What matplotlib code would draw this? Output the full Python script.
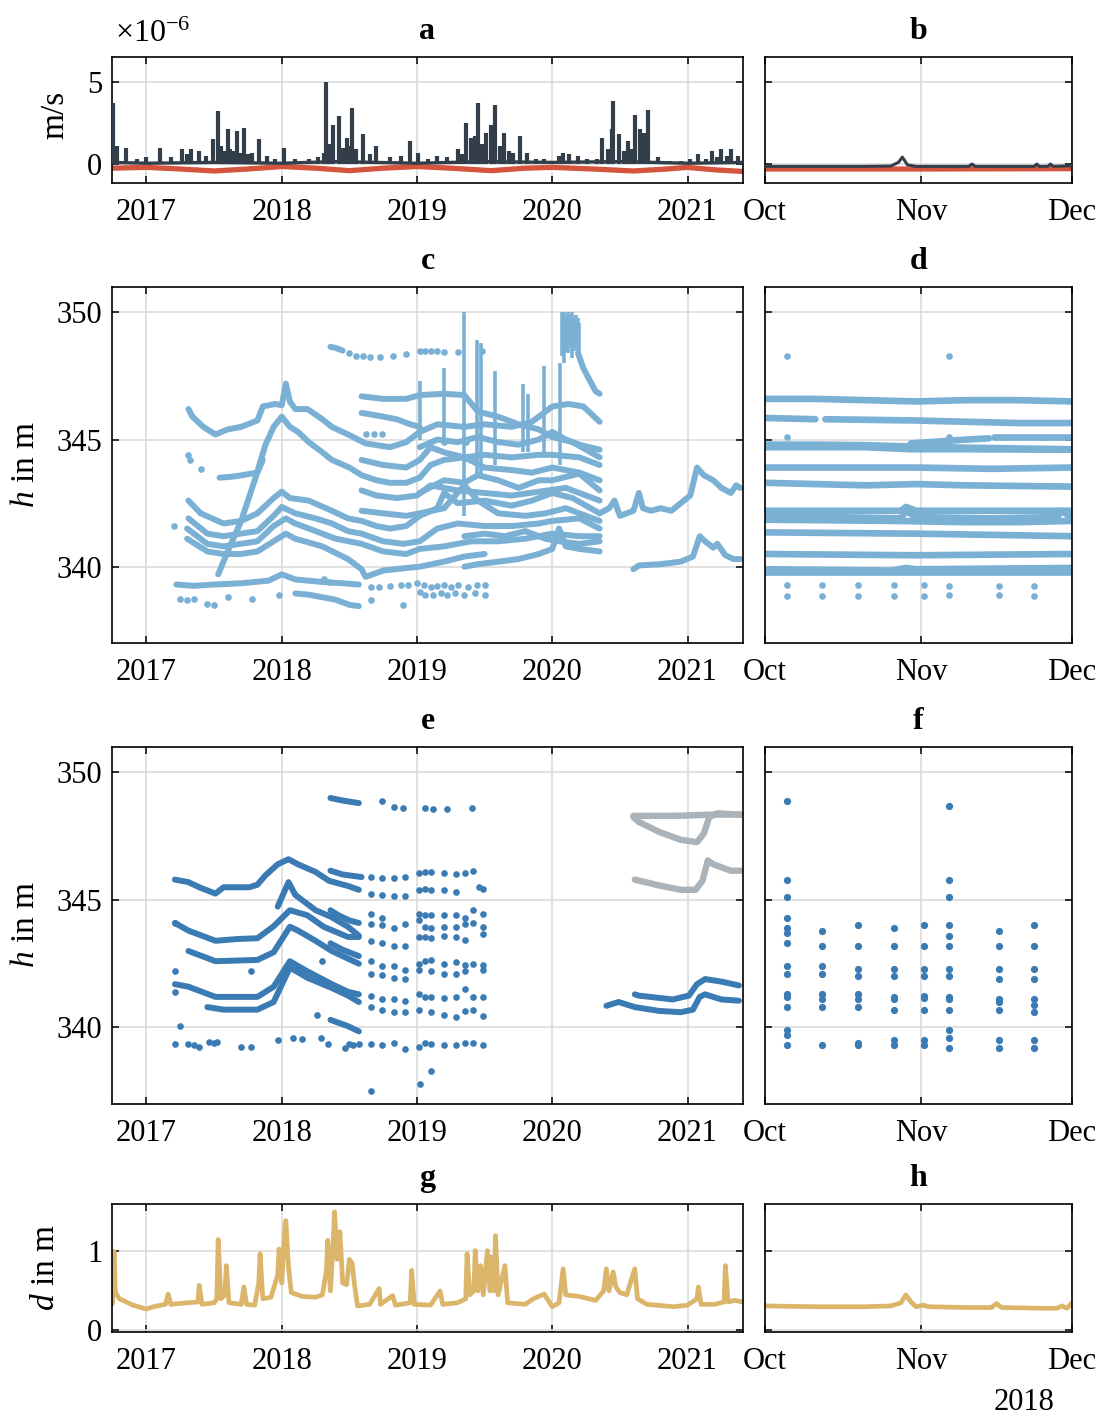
import matplotlib
matplotlib.use('Agg')
import matplotlib.pyplot as plt

plt.rcParams['font.family'] = ['Liberation Serif', 'DejaVu Serif']
plt.rcParams['mathtext.fontset'] = 'custom'
plt.rcParams['mathtext.rm'] = 'Liberation Serif'
plt.rcParams['mathtext.it'] = 'Liberation Serif:italic'
plt.rcParams['font.size'] = 22

# colours
DARK = '#323f4b'
RED = '#d4553c'
LIGHT = '#7bb0d5'
BLUE = '#3b7bb4'
GREY = '#aab3ba'
TAN = '#dbb56a'
GRID = '#dcdcdc'

# ---------------- data ----------------
# panel a: velocities in 1e-6 m/s, time as decimal year
a_spikes = [(2016.756, 3.7), (2016.78, 1.1), (2016.85, 1.0), (2016.93, 0.3), (2017.0, 0.4),
            (2017.1, 1.0), (2017.18, 0.4), (2017.26, 0.9), (2017.3, 0.6), (2017.33, 0.9),
            (2017.39, 0.8), (2017.44, 0.5), (2017.49, 1.5), (2017.53, 3.2), (2017.55, 1.1),
            (2017.57, 0.8), (2017.6, 2.1), (2017.62, 0.9), (2017.64, 0.8), (2017.67, 2.0),
            (2017.69, 0.7), (2017.72, 2.2), (2017.75, 0.6), (2017.78, 0.7), (2017.83, 1.5),
            (2017.89, 0.5), (2017.95, 0.3), (2018.02, 1.0), (2018.1, 0.3), (2018.2, 0.3),
            (2018.27, 0.4), (2018.31, 0.7), (2018.33, 5.0), (2018.36, 1.2), (2018.38, 2.4),
            (2018.42, 2.9), (2018.45, 1.0), (2018.48, 1.6), (2018.5, 1.1), (2018.52, 3.4),
            (2018.55, 0.9), (2018.6, 1.8), (2018.65, 0.6), (2018.7, 1.1), (2018.8, 0.4),
            (2018.88, 0.5), (2018.95, 1.4), (2019.01, 0.7), (2019.08, 0.3), (2019.15, 0.5),
            (2019.22, 0.4), (2019.3, 0.9), (2019.33, 0.6), (2019.36, 2.5), (2019.4, 1.6),
            (2019.43, 1.7), (2019.45, 3.7), (2019.48, 1.2), (2019.51, 1.9), (2019.55, 2.4),
            (2019.58, 3.6), (2019.61, 1.1), (2019.64, 1.9), (2019.68, 0.8), (2019.71, 0.7),
            (2019.76, 1.7), (2019.81, 0.7), (2019.88, 0.3), (2019.94, 0.3), (2020.05, 0.5),
            (2020.08, 0.7), (2020.12, 0.6), (2020.19, 0.5), (2020.26, 0.3), (2020.33, 0.3),
            (2020.37, 1.6), (2020.41, 0.9), (2020.44, 2.1), (2020.45, 3.8), (2020.49, 1.8),
            (2020.53, 0.8), (2020.56, 1.4), (2020.59, 0.9), (2020.61, 3.0), (2020.65, 2.1),
            (2020.68, 1.9), (2020.71, 3.3), (2020.78, 0.4), (2020.87, 0.2), (2020.95, 0.2),
            (2021.02, 0.3), (2021.08, 0.6), (2021.14, 0.3), (2021.18, 0.8), (2021.22, 0.4),
            (2021.25, 0.9), (2021.29, 0.5), (2021.32, 0.9), (2021.37, 0.5)]
a_base = [(2016.745, 0.1), (2017.0, 0.05), (2017.5, 0.1), (2018.0, 0.05), (2018.4, 0.15),
          (2019.0, 0.05), (2019.5, 0.15), (2020.0, 0.1), (2020.5, 0.15), (2021.0, 0.05),
          (2021.41, 0.1)]
a_red = [(2016.745, -0.25), (2017.0, -0.2), (2017.25, -0.3), (2017.5, -0.42), (2017.75, -0.3),
         (2018.0, -0.15), (2018.25, -0.25), (2018.5, -0.4), (2018.75, -0.25), (2019.0, -0.15),
         (2019.25, -0.25), (2019.55, -0.4), (2019.8, -0.25), (2020.0, -0.2), (2020.3, -0.3),
         (2020.6, -0.42), (2020.85, -0.3), (2021.0, -0.2), (2021.2, -0.35), (2021.41, -0.45)]

# panel b: days since 1 Oct 2018
b_dark = [(0, -0.14), (20, -0.14), (25, -0.12), (26.5, 0.1), (27.3, 0.42), (28.3, -0.05),
          (30, -0.14), (40.5, -0.14), (41.1, 0.0), (41.8, -0.14), (53.5, -0.14), (54, 0.0),
          (54.5, -0.14), (56.2, -0.14), (56.7, 0.0), (57.3, -0.14), (61, -0.1)]
b_red = [(0, -0.3), (15, -0.3), (30, -0.3), (45, -0.29), (61, -0.28)]

# panel c: all groundwater heads (m)
c_tr1 = [(2017.31, 346.2), (2017.34, 345.9), (2017.42, 345.5), (2017.51, 345.2), (2017.6, 345.4),
         (2017.7, 345.5), (2017.82, 345.75), (2017.86, 346.3), (2017.95, 346.4), (2018.0, 346.35),
         (2018.03, 347.2), (2018.06, 346.5), (2018.1, 346.2), (2018.19, 346.2), (2018.3, 345.8),
         (2018.37, 345.5), (2018.49, 345.2), (2018.62, 344.85), (2018.8, 344.7), (2018.92, 344.9),
         (2019.02, 345.3), (2019.15, 345.6), (2019.35, 345.5), (2019.5, 345.6), (2019.7, 345.5),
         (2019.85, 345.7), (2020.0, 346.3), (2020.12, 346.4), (2020.23, 346.3), (2020.35, 345.7)]
c_tr2 = [(2018.59, 346.7), (2018.75, 346.6), (2018.92, 346.6), (2019.02, 346.75), (2019.2, 346.8),
         (2019.35, 346.75), (2019.45, 346.1), (2019.6, 345.9), (2019.75, 345.6), (2019.9, 345.4),
         (2020.0, 345.1), (2020.15, 344.9), (2020.35, 344.3)]
c_tr3 = [(2017.53, 339.7), (2017.6, 340.6), (2017.7, 341.8), (2017.8, 343.4), (2017.88, 344.8),
         (2017.94, 345.5), (2018.0, 345.9), (2018.06, 345.5), (2018.12, 345.3), (2018.2, 344.9),
         (2018.3, 344.5), (2018.37, 344.2), (2018.5, 343.9), (2018.59, 343.6), (2018.7, 343.4),
         (2018.8, 343.3), (2018.92, 343.3), (2019.02, 343.5), (2019.1, 344.0), (2019.2, 344.2),
         (2019.35, 344.3), (2019.5, 344.4), (2019.7, 344.3), (2019.9, 344.4), (2020.0, 344.4),
         (2020.2, 344.3), (2020.35, 344.0)]
c_tr4 = [(2017.54, 343.5), (2017.65, 343.55), (2017.82, 343.7), (2017.86, 344.2)]
c_tr5 = [(2018.59, 346.05), (2018.7, 345.95), (2018.85, 345.8), (2018.95, 345.6), (2019.02, 345.5)]
c_tr6 = [(2017.31, 342.6), (2017.4, 342.1), (2017.57, 341.7), (2017.7, 341.8), (2017.82, 342.1),
         (2017.94, 342.7), (2018.0, 342.95), (2018.06, 342.7), (2018.2, 342.6), (2018.37, 342.2),
         (2018.49, 341.9), (2018.59, 341.8), (2018.7, 341.6), (2018.8, 341.5), (2018.92, 341.6),
         (2019.02, 342.0), (2019.15, 342.3), (2019.2, 342.9), (2019.3, 342.5), (2019.5, 342.6),
         (2019.7, 342.4), (2019.85, 342.6), (2020.0, 342.9), (2020.15, 342.7), (2020.35, 342.1)]
c_tr7 = [(2017.31, 341.9), (2017.45, 341.3), (2017.57, 341.2), (2017.82, 341.4), (2017.94, 342.0),
         (2018.0, 342.35), (2018.1, 342.1), (2018.25, 341.9), (2018.37, 341.7), (2018.49, 341.4),
         (2018.59, 341.3), (2018.75, 341.0), (2018.9, 340.9), (2019.02, 341.0), (2019.15, 341.5),
         (2019.3, 341.7), (2019.5, 341.6), (2019.7, 341.6), (2019.9, 341.7), (2020.0, 341.8),
         (2020.2, 341.9), (2020.35, 341.5)]
c_tr8 = [(2017.3, 341.5), (2017.45, 340.9), (2017.57, 340.8), (2017.82, 341.0), (2017.94, 341.6),
         (2018.03, 341.9), (2018.1, 341.7), (2018.25, 341.4), (2018.4, 341.1), (2018.59, 340.9),
         (2018.75, 340.6), (2018.92, 340.5), (2019.02, 340.7), (2019.2, 340.8), (2019.4, 341.0),
         (2019.6, 341.0), (2019.8, 341.1), (2020.0, 341.3), (2020.2, 341.2), (2020.35, 341.2)]
c_tr9 = [(2017.3, 341.1), (2017.45, 340.6), (2017.57, 340.5), (2017.7, 340.5), (2017.82, 340.6),
         (2017.94, 341.0), (2018.03, 341.3), (2018.1, 341.1), (2018.3, 340.8), (2018.49, 340.3),
         (2018.59, 339.9), (2018.62, 339.6), (2018.75, 339.85), (2018.92, 339.95), (2019.02, 340.0),
         (2019.2, 340.2), (2019.35, 340.4), (2019.5, 340.5)]
c_tr10 = [(2019.35, 340.0), (2019.45, 340.1), (2019.6, 340.2), (2019.75, 340.3), (2019.9, 340.5),
          (2020.0, 340.7), (2020.05, 341.5), (2020.1, 340.8), (2020.2, 340.7), (2020.35, 340.6)]
c_tr11 = [(2018.59, 344.2), (2018.75, 344.0), (2018.92, 343.9), (2019.02, 344.2), (2019.1, 344.7),
          (2019.2, 344.5), (2019.35, 344.3), (2019.5, 343.9), (2019.7, 343.8), (2019.85, 343.7),
          (2020.0, 343.9), (2020.2, 343.7), (2020.35, 343.4)]
c_tr12 = [(2018.59, 342.2), (2018.75, 342.1), (2018.92, 342.0), (2019.02, 342.1), (2019.2, 342.3),
          (2019.35, 343.2), (2019.45, 342.6), (2019.6, 342.1), (2019.8, 342.0), (2019.95, 342.1),
          (2020.1, 342.3), (2020.35, 341.8)]
c_tr13 = [(2019.02, 342.9), (2019.2, 343.4), (2019.35, 343.3), (2019.45, 343.6), (2019.6, 343.4),
          (2019.75, 343.1), (2019.9, 343.4), (2020.0, 343.4), (2020.2, 343.66), (2020.35, 343.0)]
c_tr14 = [(2017.22, 339.3), (2017.35, 339.25), (2017.5, 339.3), (2017.7, 339.35), (2017.9, 339.45),
          (2018.0, 339.7), (2018.1, 339.5), (2018.3, 339.4), (2018.45, 339.35), (2018.57, 339.3)]
c_tr15 = [(2018.1, 338.95), (2018.2, 338.9), (2018.3, 338.8), (2018.4, 338.7), (2018.5, 338.5),
          (2018.57, 338.45)]
c_tr16 = [(2018.36, 348.65), (2018.4, 348.6), (2018.45, 348.5)]
c_tr17 = [(2019.02, 344.7), (2019.15, 345.0), (2019.3, 344.9), (2019.45, 345.1), (2019.6, 344.9),
          (2019.75, 344.8), (2019.9, 345.0), (2020.0, 345.3), (2020.1, 345.0), (2020.2, 344.8),
          (2020.35, 344.6)]
c_tr18 = [(2019.35, 341.2), (2019.5, 341.3), (2019.65, 341.2), (2019.8, 341.4), (2019.95, 341.1),
          (2020.05, 341.0), (2020.2, 340.9), (2020.35, 341.0)]
c_tr19 = [(2018.59, 343.0), (2018.7, 342.8), (2018.85, 342.7), (2019.0, 342.8), (2019.1, 343.2),
          (2019.3, 343.0), (2019.5, 342.9), (2019.7, 342.8), (2019.9, 342.95), (2020.1, 343.1),
          (2020.35, 342.6)]
c_decay = [(2020.19, 348.4), (2020.23, 347.8), (2020.28, 347.3), (2020.32, 346.9), (2020.35, 346.8)]
c_late1 = [(2020.35, 342.1), (2020.42, 342.3), (2020.46, 342.6), (2020.5, 342.0), (2020.55, 342.1),
           (2020.6, 342.2), (2020.64, 342.9), (2020.67, 342.3), (2020.73, 342.2), (2020.8, 342.3),
           (2020.88, 342.2), (2020.95, 342.5), (2021.02, 342.8), (2021.07, 343.9), (2021.12, 343.6),
           (2021.19, 343.4), (2021.25, 343.1), (2021.32, 342.9), (2021.36, 343.2), (2021.39, 343.1)]
c_late2 = [(2020.6, 339.9), (2020.64, 340.05), (2020.8, 340.1), (2020.95, 340.2), (2021.04, 340.4),
           (2021.09, 341.2), (2021.13, 341.0), (2021.19, 340.75), (2021.22, 340.9), (2021.28, 340.45),
           (2021.34, 340.3), (2021.39, 340.3)]
# vertical spikes: (time, low, high)
c_spikes = [(2019.02, 345.0, 347.3), (2019.2, 345.0, 347.8), (2019.35, 342.0, 350.0),
            (2019.44, 343.5, 348.9), (2019.47, 343.5, 348.8), (2019.58, 344.0, 347.7),
            (2019.78, 344.5, 347.2), (2019.82, 344.5, 346.8), (2019.94, 344.5, 347.9),
            (2020.06, 344.0, 348.0), (2020.07, 348.3, 350.0), (2020.085, 348.0, 350.0),
            (2020.1, 348.5, 349.9), (2020.115, 348.4, 350.0), (2020.13, 348.6, 349.9),
            (2020.145, 348.2, 350.0), (2020.16, 348.5, 349.8), (2020.175, 348.6, 349.9),
            (2020.19, 348.4, 349.8), (2020.2, 348.2, 349.6)]
c_dots = [(2018.5, 348.4), (2018.55, 348.3), (2018.6, 348.3), (2018.65, 348.25), (2018.73, 348.25),
          (2018.82, 348.3), (2018.92, 348.35), (2019.02, 348.5), (2019.06, 348.5), (2019.1, 348.5),
          (2019.15, 348.5), (2019.2, 348.45), (2019.3, 348.45), (2019.48, 348.5),
          (2018.66, 339.2), (2018.72, 339.2), (2018.8, 339.25), (2018.88, 339.3), (2018.93, 339.3),
          (2019.0, 339.35), (2019.05, 339.3), (2019.1, 339.2), (2019.15, 339.25), (2019.2, 339.3),
          (2019.25, 339.2), (2019.3, 339.3), (2019.38, 339.2), (2019.44, 339.3), (2019.5, 339.3),
          (2019.02, 339.0), (2019.06, 338.9), (2019.12, 338.9), (2019.18, 338.95), (2019.22, 338.9),
          (2019.28, 338.95), (2019.35, 338.9), (2019.43, 338.95), (2019.5, 338.9), (2018.66, 338.7),
          (2018.9, 338.5), (2017.25, 338.75), (2017.3, 338.7), (2017.35, 338.75), (2017.45, 338.55),
          (2017.5, 338.5), (2017.6, 338.8), (2017.78, 338.75), (2017.98, 338.9), (2018.31, 339.5),
          (2018.35, 339.4), (2017.2, 341.6), (2017.31, 344.4), (2017.32, 344.2), (2017.4, 343.85),
          (2018.62, 345.2), (2018.68, 345.2), (2018.74, 345.2), (2019.36, 344.9), (2019.2, 344.9)]

# panel d: days since 1 Oct 2018
d_lines = [
    [(0, 346.6), (10, 346.6), (20, 346.55), (30, 346.5), (40, 346.55), (50, 346.55), (61, 346.5)],
    [(0, 345.85), (10, 345.8)],
    [(12, 345.8), (30, 345.75), (40, 345.7), (50, 345.65), (61, 345.65)],
    [(0, 344.8), (10, 344.8), (20, 344.78), (30, 344.72), (40, 344.68), (61, 344.62)],
    [(0, 344.7), (20, 344.7), (29, 344.62), (40, 344.62), (61, 344.6)],
    [(29, 344.85), (40, 345.0), (44.5, 345.05)],
    [(45.5, 345.1), (61, 345.1)],
    [(0, 343.9), (30, 343.9), (45, 343.85), (61, 343.9)],
    [(0, 343.3), (20, 343.2), (30, 343.25), (40, 343.2), (61, 343.15)],
    [(0, 342.2), (27, 342.2), (28, 342.35), (30, 342.2), (61, 342.2)],
    [(0, 342.0), (27, 341.9), (28, 342.2), (30, 341.95), (45, 341.9), (58, 341.95), (59, 342.2), (61, 341.9)],
    [(0, 341.85), (26, 341.8), (40, 341.75), (50, 341.75), (61, 341.8)],
    [(0, 341.35), (30, 341.3), (61, 341.2)],
    [(0, 340.5), (30, 340.45), (61, 340.5)],
    [(0, 339.9), (25, 339.85), (28, 339.95), (30, 339.9), (61, 339.95)],
    [(0, 339.8), (30, 339.8), (61, 339.8)],
]
d_dots = [(4.3, 348.3), (36.5, 348.3), (4.3, 345.1), (36.5, 345.1),
          (4.3, 339.3), (11.4, 339.3), (18.5, 339.3), (25.6, 339.3), (31.5, 339.3),
          (36.5, 339.25), (46.4, 339.25), (53.5, 339.25),
          (4.3, 338.85), (11.4, 338.85), (18.5, 338.85), (25.6, 338.85), (31.5, 338.85),
          (36.5, 338.88), (46.4, 338.88), (53.5, 338.85)]

# panel e: selected heads
e_tr1 = [(2017.21, 345.8), (2017.31, 345.7), (2017.39, 345.5), (2017.51, 345.25), (2017.57, 345.5),
         (2017.76, 345.5), (2017.82, 345.6), (2017.88, 345.97), (2017.97, 346.4), (2018.05, 346.6),
         (2018.12, 346.4), (2018.25, 346.1), (2018.35, 345.75), (2018.49, 345.55), (2018.57, 345.4)]
e_tr1b = [(2018.36, 346.15), (2018.45, 346.0), (2018.59, 345.9)]
e_tr2 = [(2017.97, 344.74), (2018.05, 345.7), (2018.1, 345.2), (2018.25, 344.6), (2018.36, 344.35),
         (2018.49, 343.95), (2018.57, 343.6)]
e_tr3 = [(2017.21, 344.1), (2017.31, 343.8), (2017.51, 343.4), (2017.67, 343.47), (2017.82, 343.5),
         (2017.94, 343.97), (2018.06, 344.6), (2018.19, 344.4), (2018.31, 343.95), (2018.49, 343.55),
         (2018.57, 343.55)]
e_tr3b = [(2018.36, 344.6), (2018.42, 344.4), (2018.5, 344.2), (2018.57, 344.1)]
e_tr4 = [(2017.31, 343.0), (2017.51, 342.6), (2017.82, 342.65), (2017.94, 342.95), (2018.06, 343.95),
         (2018.12, 343.8), (2018.25, 343.4), (2018.37, 343.0), (2018.49, 342.7), (2018.57, 342.5)]
e_tr4b = [(2018.36, 343.3), (2018.45, 343.05), (2018.57, 342.8)]
e_tr5 = [(2017.21, 341.7), (2017.31, 341.6), (2017.51, 341.2), (2017.82, 341.2), (2017.94, 341.6),
         (2018.06, 342.6), (2018.19, 342.2), (2018.37, 341.7), (2018.49, 341.4), (2018.57, 341.3)]
e_tr6 = [(2017.45, 340.8), (2017.57, 340.7), (2017.82, 340.7), (2017.94, 341.0), (2018.06, 342.35),
         (2018.19, 341.95), (2018.37, 341.55), (2018.49, 341.25), (2018.57, 341.0)]
e_tr7 = [(2018.36, 340.3), (2018.49, 340.05), (2018.57, 339.85)]
e_tr8 = [(2018.36, 349.0), (2018.45, 348.9), (2018.57, 348.8)]
e_late1 = [(2020.61, 341.3), (2020.64, 341.25), (2020.89, 341.1), (2021.01, 341.25), (2021.07, 341.7),
           (2021.13, 341.9), (2021.25, 341.8), (2021.38, 341.65)]
e_late2 = [(2020.4, 340.85), (2020.49, 341.0), (2020.61, 340.8), (2020.79, 340.65), (2020.95, 340.6),
           (2021.04, 340.7), (2021.09, 341.2), (2021.13, 341.3), (2021.25, 341.1), (2021.38, 341.05)]
e_grey1 = [(2020.6, 348.25), (2020.64, 348.06), (2020.79, 347.67), (2020.95, 347.36), (2021.07, 347.27),
           (2021.12, 347.6), (2021.16, 348.25), (2021.22, 348.4), (2021.39, 348.35)]
e_grey1b = [(2020.6, 348.3), (2020.9, 348.3), (2021.2, 348.35), (2021.39, 348.35)]
e_grey2 = [(2020.61, 345.8), (2020.79, 345.57), (2020.95, 345.4), (2021.06, 345.4), (2021.11, 345.75),
           (2021.15, 346.55), (2021.19, 346.4), (2021.32, 346.15), (2021.39, 346.15)]
# weekly measurements after mid 2018
e_dot_t = [2018.663, 2018.739, 2018.831, 2018.908, 2019.015, 2019.061, 2019.107, 2019.199,
           2019.291, 2019.353, 2019.414, 2019.46, 2019.491]
e_row1 = [345.9, 345.85, 345.85, 345.9, 346.05, 346.1, 346.1, 346.05, 346.0, 346.05, 346.15, None, None]
e_row2 = [345.25, 345.2, 345.15, 345.15, 345.4, 345.45, 345.4, 345.4, 345.3, None, None, 345.5, 345.45]
e_row3 = [344.45, 344.3, None, None, 344.45, 344.4, 344.4, 344.4, 344.4, 344.3, 344.6, None, 344.45]
e_row4 = [344.05, 344.0, 343.9, 344.05, 344.2, 343.95, 343.9, 343.95, 343.95, 344.05, 344.1, None, 343.95]
e_row5 = [343.4, 343.3, 343.2, 343.2, 343.55, 343.55, 343.5, 343.6, 343.55, 343.45, None, None, 343.65]
e_row6 = [342.6, 342.4, 342.4, 342.25, 342.5, 342.6, 342.65, 342.5, 342.55, 342.45, 342.5, None, 342.45]
e_row7 = [342.1, 342.05, 341.95, 341.9, 342.25, None, 342.2, 342.1, 342.1, 342.2, None, None, 342.25]
e_row8 = [341.25, 341.1, 341.1, 341.05, 341.3, 341.2, 341.2, 341.15, 341.2, 341.5, 341.2, None, 341.2]
e_row9 = [340.8, 340.7, 340.6, 340.6, 340.7, None, 340.6, 340.5, 340.4, 340.65, 340.7, None, 340.45]
e_row10 = [339.35, 339.3, 339.4, 339.15, 339.25, 339.4, 339.35, 339.3, 339.3, 339.4, 339.4, None, 339.3]
e_dots = [(2017.21, 339.35), (2017.31, 339.35), (2017.35, 339.3), (2017.39, 339.25), (2017.46, 339.45),
          (2017.5, 339.4), (2017.52, 339.45), (2017.7, 339.25), (2017.77, 339.25), (2017.97, 339.5),
          (2018.08, 339.6), (2018.15, 339.55), (2018.29, 339.6), (2018.34, 339.35), (2018.47, 339.2),
          (2018.5, 339.35), (2018.53, 339.3), (2018.57, 339.35), (2017.25, 340.05), (2018.26, 340.5),
          (2018.3, 342.6), (2017.77, 342.2), (2018.66, 337.5), (2019.02, 337.8), (2019.1, 338.3),
          (2017.21, 342.2), (2017.21, 341.4), (2017.21, 344.1), (2018.74, 348.87), (2018.83, 348.65),
          (2018.9, 348.6), (2019.06, 348.6), (2019.12, 348.58), (2019.22, 348.58), (2019.41, 348.6)]

# panel f: days since 1 Oct 2018
f_dots = [(4.3, 348.9), (4.3, 345.8), (4.3, 345.1), (4.3, 344.3), (4.3, 343.9), (4.3, 343.7),
          (4.3, 343.3), (4.3, 342.4), (4.3, 342.1), (4.3, 341.3), (4.3, 341.2), (4.3, 340.8),
          (4.3, 339.9), (4.3, 339.7), (4.3, 339.3),
          (11.4, 343.8), (11.4, 343.2), (11.4, 342.4), (11.4, 342.1), (11.4, 341.3), (11.4, 341.1),
          (11.4, 340.8), (11.4, 339.3),
          (18.5, 344.0), (18.5, 343.2), (18.5, 342.3), (18.5, 342.0), (18.5, 341.3), (18.5, 341.1),
          (18.5, 340.8), (18.5, 339.4), (18.5, 339.3),
          (25.6, 343.9), (25.6, 343.2), (25.6, 342.3), (25.6, 342.0), (25.6, 341.2), (25.6, 341.1),
          (25.6, 340.7), (25.6, 339.5), (25.6, 339.3),
          (31.5, 344.0), (31.5, 343.2), (31.5, 342.3), (31.5, 342.0), (31.5, 341.25), (31.5, 341.15),
          (31.5, 340.7), (31.5, 339.5), (31.5, 339.3),
          (36.5, 348.7), (36.5, 345.8), (36.5, 345.1), (36.5, 344.0), (36.5, 343.6), (36.5, 343.2),
          (36.5, 342.3), (36.5, 342.0), (36.5, 341.2), (36.5, 341.1), (36.5, 340.7), (36.5, 339.9),
          (36.5, 339.6), (36.5, 339.2),
          (46.4, 343.8), (46.4, 343.2), (46.4, 342.3), (46.4, 341.9), (46.4, 341.1), (46.4, 341.0),
          (46.4, 340.7), (46.4, 339.5), (46.4, 339.2),
          (53.5, 344.0), (53.5, 343.2), (53.5, 342.3), (53.5, 341.9), (53.5, 341.1), (53.5, 340.9),
          (53.5, 340.6), (53.5, 339.5), (53.5, 339.2)]

# panel g: water depth d (m)
g_line = [(2016.745, 0.33), (2016.75, 0.35), (2016.76, 1.0), (2016.77, 0.48), (2016.8, 0.4),
          (2016.9, 0.32), (2017.0, 0.27), (2017.05, 0.3), (2017.14, 0.33), (2017.16, 0.46),
          (2017.18, 0.33), (2017.3, 0.35), (2017.38, 0.36), (2017.39, 0.57), (2017.41, 0.33),
          (2017.5, 0.35), (2017.52, 0.4), (2017.53, 1.15), (2017.55, 0.4), (2017.58, 0.45),
          (2017.59, 0.82), (2017.61, 0.35), (2017.7, 0.33), (2017.72, 0.55), (2017.74, 0.33),
          (2017.8, 0.32), (2017.83, 0.6), (2017.84, 0.97), (2017.86, 0.4), (2017.92, 0.42),
          (2017.97, 0.7), (2017.98, 1.03), (2018.0, 0.6), (2018.02, 1.2), (2018.03, 1.39),
          (2018.05, 0.8), (2018.07, 0.48), (2018.15, 0.43), (2018.25, 0.42), (2018.3, 0.45),
          (2018.33, 0.75), (2018.34, 1.14), (2018.36, 0.5), (2018.38, 1.1), (2018.39, 1.5),
          (2018.41, 0.9), (2018.43, 1.25), (2018.45, 0.6), (2018.48, 0.58), (2018.5, 0.9),
          (2018.52, 0.85), (2018.54, 0.55), (2018.56, 0.31), (2018.65, 0.33), (2018.72, 0.53),
          (2018.73, 0.33), (2018.82, 0.44), (2018.84, 0.32), (2018.95, 0.35), (2018.96, 0.76),
          (2018.98, 0.33), (2019.1, 0.32), (2019.17, 0.5), (2019.19, 0.33), (2019.3, 0.35),
          (2019.36, 0.4), (2019.37, 0.97), (2019.39, 0.45), (2019.42, 0.5), (2019.43, 1.01),
          (2019.45, 0.5), (2019.47, 0.82), (2019.49, 0.45), (2019.52, 1.01), (2019.54, 0.5),
          (2019.55, 0.93), (2019.57, 0.5), (2019.58, 1.2), (2019.6, 0.45), (2019.65, 0.82),
          (2019.67, 0.35), (2019.8, 0.33), (2019.86, 0.4), (2019.94, 0.46), (2020.0, 0.3),
          (2020.05, 0.35), (2020.08, 0.78), (2020.1, 0.45), (2020.2, 0.43), (2020.32, 0.38),
          (2020.38, 0.5), (2020.4, 0.78), (2020.42, 0.5), (2020.45, 0.74), (2020.47, 0.55),
          (2020.5, 0.48), (2020.55, 0.45), (2020.61, 0.78), (2020.63, 0.4), (2020.7, 0.33),
          (2020.9, 0.3), (2021.0, 0.32), (2021.07, 0.4), (2021.08, 0.55), (2021.1, 0.33),
          (2021.2, 0.33), (2021.27, 0.36), (2021.28, 0.82), (2021.3, 0.36), (2021.35, 0.38),
          (2021.41, 0.36)]
# panel h: days since 1 Oct 2018
h_line = [(0, 0.31), (10, 0.3), (20, 0.3), (25, 0.31), (27, 0.35), (28, 0.45), (29, 0.36),
          (30, 0.3), (31.5, 0.32), (32.5, 0.3), (40, 0.29), (45, 0.29), (46, 0.34), (47, 0.29),
          (55, 0.28), (58, 0.28), (59, 0.31), (60, 0.28), (61, 0.35)]

year_ticks = [2017, 2018, 2019, 2020, 2021]
year_labels = ['2017', '2018', '2019', '2020', '2021']
month_ticks = [0, 31, 61]
month_labels = ['Oct', 'Nov', 'Dec']

# ---------------- layout ----------------
W, H = 1100, 1416
fig = plt.figure(figsize=(W / 100, H / 100), dpi=100)


def make_ax(x0, x1, y0, y1):
    return fig.add_axes([x0 / W, 1 - y1 / H, (x1 - x0) / W, (y1 - y0) / H])


def style(ax, left=True):
    ax.tick_params(direction='in', top=True, right=True, length=5, width=1.1)
    ax.tick_params(axis='x', pad=11)
    ax.tick_params(axis='y', pad=7)
    ax.grid(True, color=GRID, lw=1.2)
    ax.set_axisbelow(True)
    for s in ax.spines.values():
        s.set_linewidth(1.2)
    if left:
        ax.set_xlim(2016.745, 2021.41)
        ax.set_xticks(year_ticks)
        ax.set_xticklabels(year_labels)
    else:
        ax.set_xlim(0, 61)
        ax.set_xticks(month_ticks)
        ax.set_xticklabels(month_labels)
        ax.set_yticklabels([])


def line(ax, pts, color, lw=4.3, z=2):
    t, v = zip(*pts)
    ax.plot(t, v, color=color, lw=lw, solid_capstyle='round', solid_joinstyle='round', zorder=z)


def dots(ax, pts, color, ms=4.8):
    t, v = zip(*pts)
    ax.plot(t, v, 'o', color=color, ms=ms, mew=0, ls='none', zorder=2)


LX0, LX1 = 112, 743
RX0, RX1 = 765, 1072
rows = {'a': (57, 183), 'c': (287, 643), 'e': (747, 1104), 'g': (1204, 1332)}

ax_a = make_ax(LX0, LX1, *rows['a'])
ax_b = make_ax(RX0, RX1, *rows['a'])
ax_c = make_ax(LX0, LX1, *rows['c'])
ax_d = make_ax(RX0, RX1, *rows['c'])
ax_e = make_ax(LX0, LX1, *rows['e'])
ax_f = make_ax(RX0, RX1, *rows['e'])
ax_g = make_ax(LX0, LX1, *rows['g'])
ax_h = make_ax(RX0, RX1, *rows['g'])

# --- a / b ---
for ax in (ax_a, ax_b):
    ax.set_ylim(-1.15, 6.5)
    ax.set_yticks([0, 5])
line(ax_a, a_red, RED, lw=3.8)
line(ax_a, a_base, DARK, lw=2.4, z=3)
st, sv = zip(*a_spikes)
ax_a.vlines(st, 0, sv, color=DARK, lw=3.0, zorder=3)
ax_a.text(0.005, 1.06, r'$\times\mathregular{10}^{\mathregular{-6}}$', transform=ax_a.transAxes,
          ha='left', va='bottom', fontsize=23)
line(ax_b, b_red, RED, lw=3.8)
line(ax_b, b_dark, DARK, lw=2.2, z=3)

# --- c / d ---
for ax in (ax_c, ax_d, ax_e, ax_f):
    ax.set_ylim(337, 351)
    ax.set_yticks([340, 345, 350])
for tr in (c_tr1, c_tr2, c_tr3, c_tr4, c_tr5, c_tr6, c_tr7, c_tr8, c_tr9, c_tr10, c_tr11,
           c_tr12, c_tr13, c_tr14, c_tr15, c_tr16, c_tr17, c_tr18, c_tr19, c_decay,
           c_late1, c_late2):
    line(ax_c, tr, LIGHT)
sp_t, sp_lo, sp_hi = zip(*c_spikes)
ax_c.vlines(sp_t, sp_lo, sp_hi, color=LIGHT, lw=2.6)
dots(ax_c, c_dots, LIGHT)
for tr in d_lines:
    line(ax_d, tr, LIGHT, lw=4.8)
dots(ax_d, d_dots, LIGHT)

# --- e / f ---
for tr in (e_tr1, e_tr1b, e_tr2, e_tr3, e_tr3b, e_tr4, e_tr4b, e_tr5, e_tr6, e_tr7, e_tr8,
           e_late1, e_late2):
    line(ax_e, tr, BLUE)
for tr in (e_grey1, e_grey1b, e_grey2):
    line(ax_e, tr, GREY, lw=4.6)
for row in (e_row1, e_row2, e_row3, e_row4, e_row5, e_row6, e_row7, e_row8, e_row9, e_row10):
    pts = [(t, v) for t, v in zip(e_dot_t, row) if v is not None]
    dots(ax_e, pts, BLUE)
dots(ax_e, e_dots, BLUE)
dots(ax_f, f_dots, BLUE, ms=5.2)

# --- g / h ---
for ax in (ax_g, ax_h):
    ax.set_ylim(-0.02, 1.6)
    ax.set_yticks([0, 1])
line(ax_g, g_line, TAN, lw=3.4)
line(ax_h, h_line, TAN, lw=3.4)

for ax in (ax_a, ax_c, ax_e, ax_g):
    style(ax, left=True)
for ax in (ax_b, ax_d, ax_f, ax_h):
    style(ax, left=False)

for ax, lab in zip((ax_a, ax_b, ax_c, ax_d, ax_e, ax_f, ax_g, ax_h), 'abcdefgh'):
    ax.set_title(lab, fontweight='bold', fontsize=23, pad=13)

fig.text(55 / W, 1 - 115 / H, 'm/s', rotation=90, ha='center', va='center', fontsize=24)
fig.text(26 / W, 1 - 465 / H, r'$h$ in m', rotation=90, ha='center', va='center', fontsize=24)
fig.text(26 / W, 1 - 925 / H, r'$h$ in m', rotation=90, ha='center', va='center', fontsize=24)
fig.text(46 / W, 1 - 1268 / H, r'$d$ in m', rotation=90, ha='center', va='center', fontsize=24)
fig.text(1024 / W, 1 - 1402 / H, '2018', ha='center', va='center', fontsize=22)

fig.savefig('out.png', dpi=100, facecolor='white')
